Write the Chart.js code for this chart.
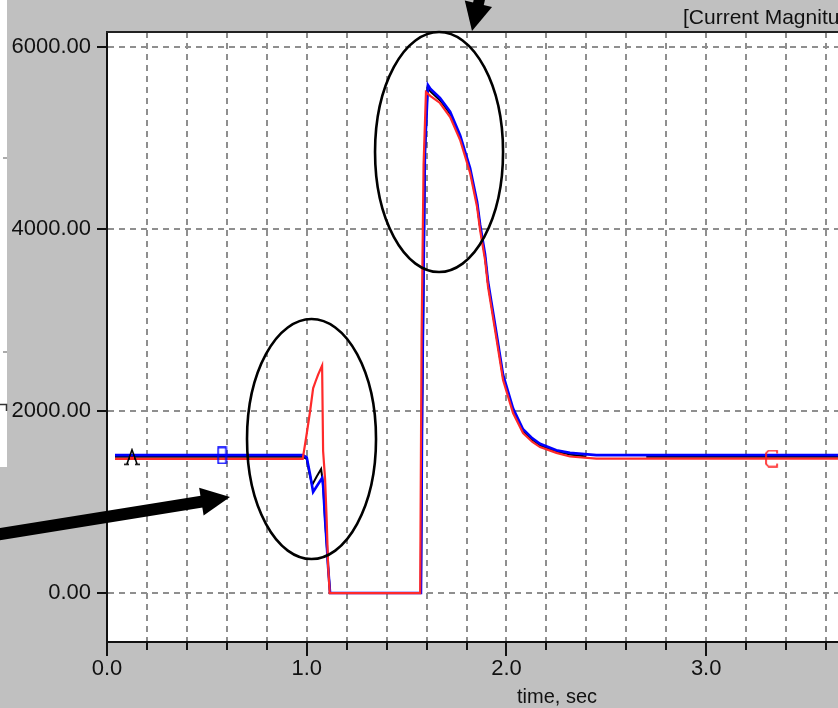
<!DOCTYPE html>
<html><head><meta charset="utf-8">
<script src="https://cdn.jsdelivr.net/npm/chart.js@4.4.1/dist/chart.umd.min.js"></script>
<style>html,body{margin:0;padding:0;overflow:hidden;background:#c0c0c0}canvas{display:block}</style>
</head><body>
<canvas id="c" width="838" height="708" style="width:838px;height:708px"></canvas>
<script>
// ---- data ----
const xTickValues = [0,0.2,0.4,0.6,0.8,1.0,1.2,1.4,1.6,1.8,2.0,2.2,2.4,2.6,2.8,3.0,3.2,3.4,3.6];
const xLabelValues = [0,1,2,3];
const yTickValues = [0,2000,4000,6000];

const redTime = [0.04,0.98,1.0,1.017,1.032,1.045,1.057,1.077,1.082,1.092,1.100,1.107,1.115,1.568,1.575,1.585,1.597,1.62,1.667,1.718,1.768,1.818,1.853,1.868,1.893,1.908,1.943,1.983,2.033,2.083,2.13,2.168,2.25,2.318,2.45,3.70];
const redVal  = [1475,1475,1750,2000,2250,2330,2400,2500,1560,1250,800,300,0,0,2800,4700,5505,5460,5385,5231,4978,4615,4242,3989,3659,3363,2890,2341,1978,1758,1660,1604,1540,1500,1478,1478];

const blueTime = [0.04,0.98,1.0,1.017,1.032,1.055,1.077,1.082,1.092,1.102,1.107,1.117,1.572,1.578,1.585,1.592,1.607,1.62,1.667,1.718,1.768,1.818,1.853,1.868,1.893,1.908,1.943,1.983,2.033,2.083,2.13,2.168,2.25,2.318,2.45,3.70];
const blueVal  = [1516,1516,1490,1300,1110,1190,1264,1180,802,472,286,0,0,2066,3473,4868,5582,5540,5440,5290,5030,4670,4300,4050,3720,3420,2950,2400,2030,1800,1700,1640,1570,1540,1516,1516];

const blackTime = [0.04,0.98,1.0,1.012,1.027,1.05,1.072,1.082,1.092,1.102,1.107,1.117,1.572,1.578,1.585,1.592,1.605,1.62,1.667,1.718,1.768,1.818,1.853,1.868,1.893,1.908,1.943,1.983,2.033,2.083,2.13,2.168,2.25,2.318,2.40,2.45,2.70,3.70];
const blackVal  = [1497,1497,1475,1330,1187,1280,1363,1200,800,470,290,0,0,2000,3400,4800,5550,5510,5415,5265,5008,4645,4275,4022,3692,3393,2922,2372,2005,1780,1682,1624,1556,1522,1500,null,1497,1497];

const markerATime = [0.125], markerAVal = [1497];
const markerBTime = [0.576], markerBVal = [1512];
const markerCTime = [3.33],  markerCVal = [1478];

const titleText = '[Current Magnitude (kA)]';
const xTitleText = 'time, sec';

// ---- helpers ----
function pts(t, v){ return t.map((x,i)=>({x:x, y:v[i]})); }
function mk(w,h,fn){ const c=document.createElement('canvas'); c.width=w; c.height=h; const g=c.getContext('2d'); fn(g); return c; }
const imgA = mk(18,18,g=>{ g.strokeStyle='#000'; g.lineWidth=1.6; g.beginPath();
  g.moveTo(4,16); g.lineTo(9,2); g.lineTo(14,16); g.moveTo(6,11); g.lineTo(12,11);
  g.moveTo(1,16.5); g.lineTo(6,16.5); g.moveTo(12,16.5); g.lineTo(17,16.5); g.stroke();
  g.fillStyle='#ff2020'; g.fillRect(7,9,4,3); });
const imgB = mk(11,18,g=>{ g.strokeStyle='#0000ff'; g.lineWidth=1.6; g.strokeRect(1.5,1,8,16); });
const imgC = mk(14,18,g=>{ g.strokeStyle='#ff2020'; g.lineWidth=1.6; g.beginPath();
  g.moveTo(12,4); g.lineTo(12,1); g.lineTo(3.5,1); g.lineTo(1,3.5); g.lineTo(1,14.5); g.lineTo(3.5,17); g.lineTo(12,17); g.lineTo(12,14); g.stroke(); });

const FONT = '"Liberation Sans", Arial, sans-serif';

const decor = {
  id:'decor',
  beforeDraw(chart){
    const {ctx, chartArea:a} = chart;
    ctx.save();
    ctx.fillStyle='#c0c0c0'; ctx.fillRect(0,0,chart.width,chart.height);
    ctx.fillStyle='#ffffff'; ctx.fillRect(a.left,a.top,a.right-a.left,a.bottom-a.top);
    ctx.fillStyle='#ffffff'; ctx.fillRect(0,0,7,467);
    ctx.strokeStyle='#909090'; ctx.lineWidth=1.5;
    ctx.beginPath(); ctx.moveTo(3,158); ctx.lineTo(7,158); ctx.moveTo(3,352); ctx.lineTo(7,352); ctx.stroke();
    ctx.strokeStyle='#333'; ctx.beginPath(); ctx.moveTo(0,404.5); ctx.lineTo(6.5,404.5); ctx.lineTo(6.5,411); ctx.stroke();
    ctx.restore();
  },
  afterDraw(chart){
    const {ctx, chartArea:a, scales:{x,y}} = chart;
    ctx.save();
    // top border
    ctx.strokeStyle='#222'; ctx.lineWidth=2;
    ctx.beginPath(); ctx.moveTo(a.left-1,a.top); ctx.lineTo(chart.width,a.top); ctx.stroke();
    // x ticks
    ctx.strokeStyle='#111'; ctx.lineWidth=2;
    xTickValues.forEach(v=>{
      const px = Math.round(x.getPixelForValue(v));
      const major = xLabelValues.some(m=>Math.abs(m-v)<1e-6);
      ctx.beginPath(); ctx.moveTo(px,a.bottom); ctx.lineTo(px,a.bottom+(major?14:8)); ctx.stroke();
    });
    // y ticks
    yTickValues.forEach(v=>{
      const py = Math.round(y.getPixelForValue(v));
      ctx.beginPath(); ctx.moveTo(a.left-10,py); ctx.lineTo(a.left,py); ctx.stroke();
    });
    // title texts
    ctx.fillStyle='#111'; ctx.textBaseline='middle';
    ctx.font='21px '+FONT; ctx.textAlign='left';
    ctx.fillText(titleText, 683, 18);
    ctx.font='20px '+FONT; ctx.textAlign='center';
    ctx.fillText(xTitleText, 557, 697);
    // ellipses (centres in data space)
    ctx.strokeStyle='#000'; ctx.lineWidth=2.6;
    [[1.024,1692,64.5,120],[1.6625,4846,64,120]].forEach(([t,v,rx,ry])=>{
      ctx.beginPath(); ctx.ellipse(x.getPixelForValue(t), y.getPixelForValue(v), rx, ry, 0, 0, Math.PI*2); ctx.stroke();
    });
    // arrows
    function arrow(x0,y0,x1,y1,w,hl,hw){
      const dx=x1-x0, dy=y1-y0, L=Math.hypot(dx,dy), ux=dx/L, uy=dy/L, nx=-uy, ny=ux;
      const bx=x1-ux*hl, by=y1-uy*hl;
      ctx.fillStyle='#000'; ctx.strokeStyle='#000';
      ctx.lineWidth=w; ctx.lineCap='butt';
      ctx.beginPath(); ctx.moveTo(x0,y0); ctx.lineTo(bx+ux*2,by+uy*2); ctx.stroke();
      ctx.beginPath(); ctx.moveTo(x1,y1); ctx.lineTo(bx+nx*hw,by+ny*hw); ctx.lineTo(bx-nx*hw,by-ny*hw); ctx.closePath(); ctx.fill();
    }
    arrow(-5,535,230,497,12,29,14);
    arrow(484,-20,472,31,11,28,14);
    ctx.restore();
  }
};

new Chart(document.getElementById('c'), {
  type:'line',
  data:{ datasets:[
    {label:'red', data:pts(redTime,redVal), borderColor:'#ff2a2a', borderWidth:2.2, pointRadius:0, tension:0, order:1},
    {label:'blue', data:pts(blueTime,blueVal), borderColor:'#0000ff', borderWidth:2.6, pointRadius:0, tension:0, order:2},
    {label:'black', data:pts(blackTime,blackVal), borderColor:'#000000', borderWidth:2, pointRadius:0, tension:0, order:3},
    {label:'A', data:pts(markerATime,markerAVal), showLine:false, pointStyle:imgA, pointRadius:9, order:0},
    {label:'B', data:pts(markerBTime,markerBVal), showLine:false, pointStyle:imgB, pointRadius:9, order:0},
    {label:'C', data:pts(markerCTime,markerCVal), showLine:false, pointStyle:imgC, pointRadius:9, order:0}
  ]},
  options:{
    responsive:false, animation:false, devicePixelRatio:1,
    layout:{autoPadding:false, padding:{top:32,left:0,right:0,bottom:0}},
    plugins:{legend:{display:false}, tooltip:{enabled:false}, title:{display:false}},
    scales:{
      x:{ type:'linear', min:0, max:3.66,
        afterBuildTicks:s=>{ s.ticks = xTickValues.map(v=>({value:v})); },
        afterFit:s=>{ s.height = 66; s.paddingLeft = 0; s.paddingRight = 0; },
        ticks:{ autoSkip:false, maxRotation:0, padding:14, color:'#111', font:{family:FONT,size:22},
          callback:v=> xLabelValues.some(m=>Math.abs(m-v)<1e-6) ? Number(v).toFixed(1) : '' },
        grid:{ drawTicks:false, lineWidth:2, color:c=> (c.tick && c.tick.value===0) ? 'rgba(0,0,0,0)' : '#8f8f8f' },
        border:{ display:true, color:'#111', width:2, dash:[6,5] }
      },
      y:{ type:'linear', min:-538, max:6165,
        afterBuildTicks:s=>{ s.ticks = yTickValues.map(v=>({value:v})); },
        afterFit:s=>{ s.width = 107; s.paddingTop = 0; s.paddingBottom = 0; },
        ticks:{ padding:16, color:'#111', font:{family:FONT,size:22}, callback:v=> Number(v).toFixed(2) },
        grid:{ drawTicks:false, lineWidth:2, color:'#8f8f8f' },
        border:{ display:true, color:'#111', width:2, dash:[6,5] }
      }
    }
  },
  plugins:[decor]
});
</script>
</body></html>
